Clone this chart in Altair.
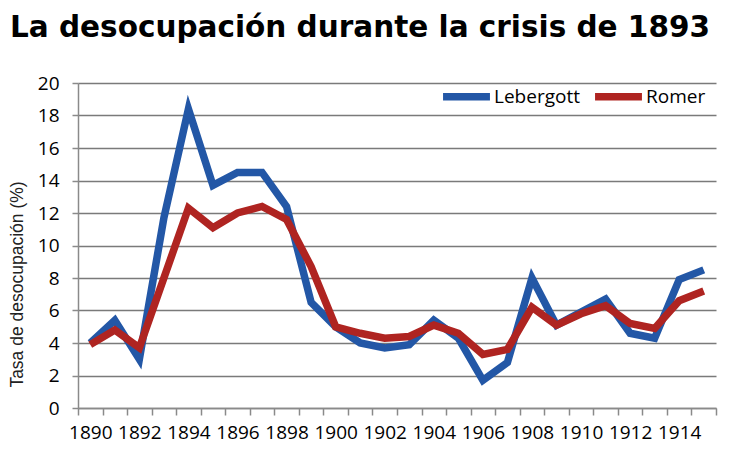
import altair as alt
import pandas as pd

# Unemployment rate estimates, 1890-1915 (%)
years = list(range(1890, 1916))
lebergott = [4.0, 5.4, 3.0, 11.7, 18.4, 13.7, 14.5, 14.5, 12.4, 6.5,
             5.0, 4.0, 3.7, 3.9, 5.4, 4.3, 1.7, 2.8, 8.0, 5.1,
             5.9, 6.7, 4.6, 4.3, 7.9, 8.5]
romer = [3.9, 4.8, 3.7, 8.0, 12.3, 11.1, 12.0, 12.4, 11.6, 8.7,
         5.0, 4.6, 4.3, 4.4, 5.1, 4.6, 3.3, 3.6, 6.2, 5.1,
         5.8, 6.3, 5.2, 4.9, 6.6, 7.2]
series_names = ["Lebergott", "Romer"]
series_colors = ["#2357A6", "#AF2421"]
y_ticks = list(range(0, 21, 2))

df = pd.DataFrame({
    "year": years * 2,
    "rate": lebergott + romer,
    "series": [series_names[0]] * len(years) + [series_names[1]] * len(years),
})

# category-style ticks sit between years; labels every second year
x_tick_values = [y - 0.5 for y in years] + [years[-1] + 0.5]
label_expr = ("(datum.value + 0.5) % 2 == 0 && datum.value < 1915 "
              "? '' + (datum.value + 0.5) : ''")

W, H = 638, 325
band = W / len(years)

chart = alt.Chart(df).mark_line(strokeWidth=7.5, strokeJoin="miter").encode(
    x=alt.X(
        "year:Q",
        scale=alt.Scale(domain=[years[0] - 0.5, years[-1] + 0.5], nice=False, zero=False),
        axis=alt.Axis(
            values=x_tick_values, title=None, grid=False,
            labelExpr=label_expr, labelOffset=band / 2,
            labelFont="Open Sans", labelFontSize=19, labelColor="#000",
            labelPadding=8, labelOverlap=False, labelFlush=False,
            tickSize=7, tickColor="#8a8a8a", tickWidth=1.5,
            domainColor="#8a8a8a", domainWidth=1.5,
        ),
    ),
    y=alt.Y(
        "rate:Q",
        scale=alt.Scale(domain=[0, 20], nice=False),
        axis=alt.Axis(
            values=y_ticks, title="Tasa de desocupación (%)",
            titleFont="Liberation Sans", titleFontSize=17.5, titleFontWeight="normal",
            titleColor="#222", titleY=201, titleX=-52,
            labelFont="Open Sans", labelFontSize=19, labelColor="#000",
            labelPadding=13,
            tickSize=6, tickColor="#8a8a8a", tickWidth=1.5,
            domainColor="#8a8a8a", domainWidth=1.5,
            grid=True, gridColor="#7a7a7a", gridWidth=1.5,
        ),
    ),
    color=alt.Color(
        "series:N",
        scale=alt.Scale(domain=series_names, range=series_colors),
        legend=alt.Legend(
            title=None, orient="none", legendX=361, legendY=-14, padding=0,
            direction="horizontal", symbolType="stroke",
            symbolStrokeWidth=7.5, symbolSize=2200,
            labelFont="Open Sans", labelFontSize=19, labelColor="#000",
            labelOffset=0, columnPadding=0,
        ),
    ),
).properties(
    width=W,
    height=H,
    title=alt.TitleParams(
        "La desocupación durante la crisis de 1893",
        font="DejaVu Sans", fontSize=29.5, fontWeight="bold", color="#000",
        anchor="start", frame="group", dx=-68, offset=26,
    ),
    autosize=alt.AutoSizeParams(type="none"),
    padding={"left": 78, "top": 83, "right": 14, "bottom": 48},
    background="white",
).configure_view(stroke=None)

chart.save("out.html", embed_options={"renderer": "svg", "actions": False})
